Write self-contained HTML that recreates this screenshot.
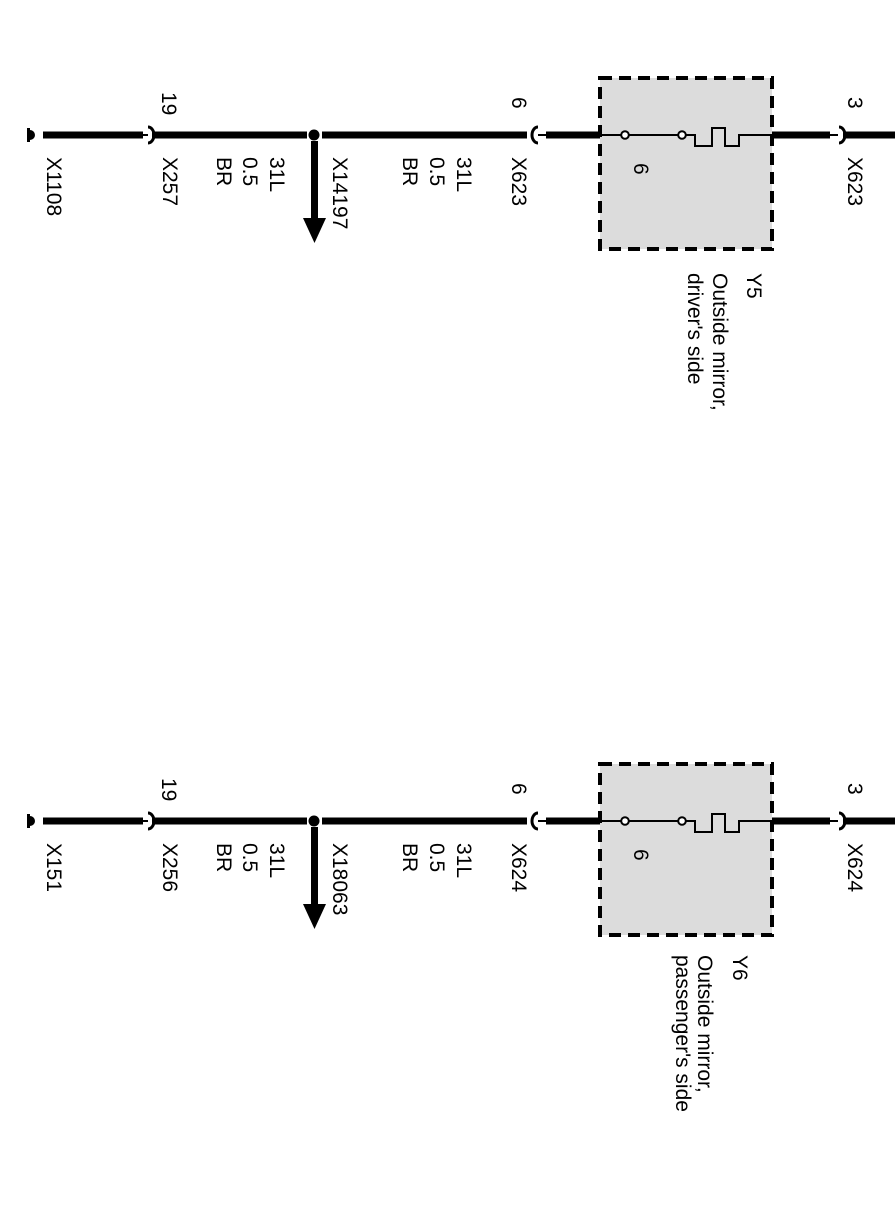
<!DOCTYPE html>
<html><head><meta charset="utf-8"><style>
html,body{margin:0;padding:0;background:#fff;}
svg{display:block;}
text{font-family:"Liberation Sans",Arial,sans-serif;font-size:21px;fill:#000;}
</style></head><body>
<svg width="895" height="1221" viewBox="0 0 895 1221" xmlns="http://www.w3.org/2000/svg">
<defs>
<g id="wire">
  <rect x="27" y="-7" width="3" height="14" fill="#000"/>
  <path d="M30,-5 a5,5 0 0 1 0,10 z" fill="#000"/>
  <rect x="43" y="-3.5" width="100" height="7" fill="#000"/>
  <path d="M143,0 L148,0" stroke="#000" stroke-width="2"/>
  <path d="M148,-8 a6,8 0 0 1 0,16" fill="none" stroke="#000" stroke-width="3"/>
  <rect x="152" y="-3.5" width="155" height="7" fill="#000"/>
  <circle cx="314" cy="0" r="5.5" fill="#000"/>
  <rect x="322" y="-3.5" width="205" height="7" fill="#000"/>
  <path d="M538,-8 a6,8 0 0 0 0,16" fill="none" stroke="#000" stroke-width="3"/>
  <path d="M538,0 L546,0" stroke="#000" stroke-width="2"/>
  <rect x="546" y="-3.5" width="54" height="7" fill="#000"/>
  <rect x="311" y="6" width="7" height="78" fill="#000"/>
  <polygon points="303,83 326,83 314.5,108" fill="#000"/>
  <rect x="600" y="-57" width="172" height="171" fill="#dcdcdc" stroke="#000" stroke-width="4" stroke-dasharray="12,7"/>
  <path d="M600,0 L621,0 M629,0 L678,0 M686,0 L695,0 L695,11 L712,11 L712,-7 L725,-7 L725,11 L739,11 L739,0 L772,0" fill="none" stroke="#000" stroke-width="2"/>
  <circle cx="625" cy="0" r="3.8" fill="#fff" stroke="#000" stroke-width="2"/>
  <circle cx="682" cy="0" r="3.8" fill="#fff" stroke="#000" stroke-width="2"/>
  <rect x="772" y="-3.5" width="58" height="7" fill="#000"/>
  <path d="M830,0 L838,0" stroke="#000" stroke-width="2"/>
  <path d="M839,-8 a6,8 0 0 1 0,16" fill="none" stroke="#000" stroke-width="3"/>
  <rect x="843" y="-3.5" width="52" height="7" fill="#000"/>
  <text transform="translate(162,-43) rotate(90)">19</text>
  <text transform="translate(217,22) rotate(90)">BR</text>
  <text transform="translate(243,22) rotate(90)">0.5</text>
  <text transform="translate(270,22) rotate(90)">31L</text>
  <text transform="translate(403,22) rotate(90)">BR</text>
  <text transform="translate(430,22) rotate(90)">0.5</text>
  <text transform="translate(457,22) rotate(90)">31L</text>
  <text transform="translate(512,-38) rotate(90)">6</text>
  <text transform="translate(634,28) rotate(90)">6</text>
  <text transform="translate(848,-38) rotate(90)">3</text>
</g>
</defs>
<g transform="translate(0,135)">
  <use href="#wire"/>
  <text transform="translate(47,22) rotate(90)">X1108</text>
  <text transform="translate(163,22) rotate(90)">X257</text>
  <text transform="translate(333,22) rotate(90)">X14197</text>
  <text transform="translate(512,22) rotate(90)">X623</text>
  <text transform="translate(848,22) rotate(90)">X623</text>
  <text transform="translate(747,138) rotate(90)">Y5</text>
  <text transform="translate(713,138) rotate(90)">Outside mirror,</text>
  <text transform="translate(688,138) rotate(90)">driver's side</text>
</g>
<g transform="translate(0,821)">
  <use href="#wire"/>
  <text transform="translate(47,22) rotate(90)">X151</text>
  <text transform="translate(163,22) rotate(90)">X256</text>
  <text transform="translate(333,22) rotate(90)">X18063</text>
  <text transform="translate(512,22) rotate(90)">X624</text>
  <text transform="translate(848,22) rotate(90)">X624</text>
  <text transform="translate(733,134) rotate(90)">Y6</text>
  <text transform="translate(698,134) rotate(90)">Outside mirror,</text>
  <text transform="translate(676,134) rotate(90)">passenger's side</text>
</g>
</svg>
</body></html>
